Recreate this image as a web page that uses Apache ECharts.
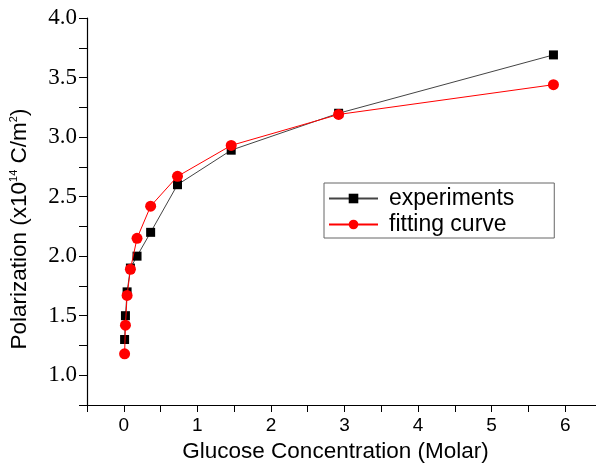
<!DOCTYPE html>
<html>
<head>
<meta charset="utf-8">
<script src="https://cdn.jsdelivr.net/npm/echarts@6/dist/echarts.min.js"></script>
<style>
  html, body { margin: 0; padding: 0; background: #fff; }
  #main { width: 596px; height: 465px; }
</style>
</head>
<body>
<div id="main"></div>
<script>
// glucose concentration (Molar)
var conc = [5.84, 2.92, 1.46, 0.73, 0.365, 0.18, 0.09, 0.045, 0.0225, 0.011];
// polarization (x10^14 C/m^2)
var experiments = [3.69, 3.20, 2.89, 2.60, 2.20, 2.00, 1.90, 1.70, 1.50, 1.30];
var fitting = [3.44, 3.19, 2.93, 2.67, 2.42, 2.15, 1.89, 1.67, 1.42, 1.18];

var toPairs = function (xs, ys) {
  var out = [];
  for (var i = 0; i < xs.length; i++) out.push([xs[i], ys[i]]);
  return out;
};

var myChart = echarts.init(document.getElementById('main'));

var option = {
  backgroundColor: '#fff',
  animation: false,
  grid: { left: 87, top: 18, right: -6, bottom: 60, outerBoundsMode: 'none' },
  legend: {
    orient: 'vertical',
    left: 324,
    top: 183,
    padding: [4, 40, 2, 4],
    itemGap: 3,
    itemWidth: 49,
    itemHeight: 12,
    borderColor: '#666',
    borderWidth: 1,
    textStyle: { fontFamily: 'Liberation Sans', fontSize: 23, color: '#000', lineHeight: 23, padding: [0, 0, 0, 6] },
    data: ['experiments', 'fitting curve']
  },
  xAxis: {
    type: 'value',
    min: -0.5,
    max: 6.5,
    interval: 0.5,
    name: 'Glucose Concentration (Molar)',
    nameLocation: 'middle',
    nameGap: 29,
    nameTextStyle: { fontFamily: 'Liberation Sans', fontSize: 22.5, color: '#000', padding: [0, 18, 0, 0] },
    axisLine: { onZero: false, lineStyle: { color: '#000', width: 1.2 } },
    axisTick: { inside: false, length: 7, lineStyle: { color: '#000' } },
    axisLabel: {
      fontFamily: 'Liberation Sans', fontSize: 19, color: '#000', margin: 11,
      formatter: function (v) { return (Math.abs(v - Math.round(v)) < 1e-6 && v >= 0 && v <= 6) ? String(Math.round(v)) : ''; }
    },
    splitLine: { show: false }
  },
  yAxis: {
    type: 'value',
    min: 0.75,
    max: 4.0,
    interval: 0.25,
    name: 'Polarization (x10{sup|14} C/m{sup|2})',
    nameLocation: 'middle',
    nameGap: 56,
    nameTextStyle: {
      fontFamily: 'Liberation Sans', fontSize: 22.5, color: '#000', padding: [0, 35, 0, 0],
      rich: {
        sup: { fontFamily: 'Liberation Sans', fontSize: 11, color: '#000', verticalAlign: 'top', lineHeight: 22 }
      }
    },
    axisLine: { onZero: false, lineStyle: { color: '#000', width: 1.2 } },
    axisTick: { inside: false, length: 8, lineStyle: { color: '#000' } },
    axisLabel: {
      fontFamily: 'Liberation Serif', fontSize: 23, color: '#000', margin: 10,
      formatter: function (v) {
        var r = Math.round(v * 2) / 2;
        return (Math.abs(v - r) < 1e-6 && v >= 1) ? v.toFixed(1) : '';
      }
    },
    splitLine: { show: false }
  },
  series: [
    {
      name: 'experiments',
      type: 'line',
      data: toPairs(conc, experiments),
      symbol: 'rect',
      symbolSize: 9,
      itemStyle: { color: '#000' },
      lineStyle: { color: '#444', width: 1 },
      z: 2
    },
    {
      name: 'fitting curve',
      type: 'line',
      data: toPairs(conc, fitting),
      symbol: 'circle',
      symbolSize: 11,
      itemStyle: { color: '#ff0000' },
      lineStyle: { color: '#ff0000', width: 1 },
      z: 3
    }
  ]
};

myChart.setOption(option);
</script>
</body>
</html>
